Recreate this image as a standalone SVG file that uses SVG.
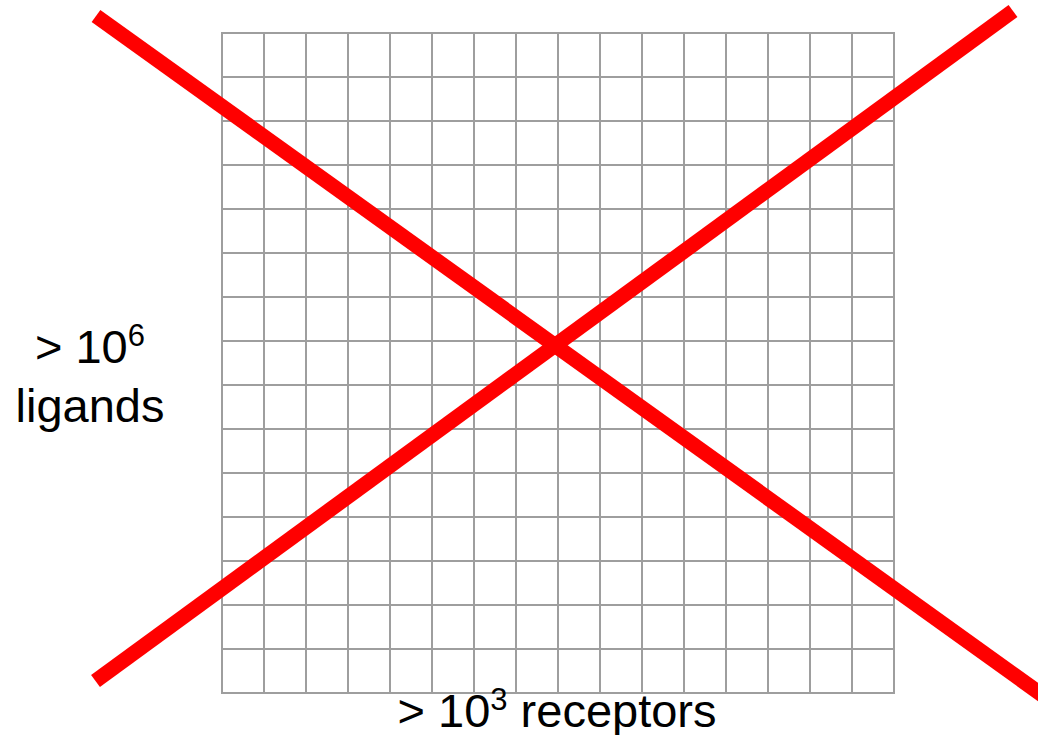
<svg xmlns="http://www.w3.org/2000/svg" width="1038" height="735" viewBox="0 0 1038 735">
  <style>
    .grid line { stroke: #9e9e9e; stroke-width: 2; }
    .cross line { stroke: #ff0000; stroke-width: 15; stroke-linecap: butt; }
    .lbl { font-family: "Liberation Sans", Arial, sans-serif; font-size: 47px; fill: #000; text-anchor: middle; }
    .sup { font-size: 31px; }
  </style>
  <rect width="1038" height="735" fill="#ffffff"/>
  <g id="grid" class="grid">
    <line x1="222" y1="33" x2="222" y2="693"/>
    <line x1="264" y1="33" x2="264" y2="693"/>
    <line x1="306" y1="33" x2="306" y2="693"/>
    <line x1="348" y1="33" x2="348" y2="693"/>
    <line x1="390" y1="33" x2="390" y2="693"/>
    <line x1="432" y1="33" x2="432" y2="693"/>
    <line x1="474" y1="33" x2="474" y2="693"/>
    <line x1="516" y1="33" x2="516" y2="693"/>
    <line x1="558" y1="33" x2="558" y2="693"/>
    <line x1="600" y1="33" x2="600" y2="693"/>
    <line x1="642" y1="33" x2="642" y2="693"/>
    <line x1="684" y1="33" x2="684" y2="693"/>
    <line x1="726" y1="33" x2="726" y2="693"/>
    <line x1="768" y1="33" x2="768" y2="693"/>
    <line x1="810" y1="33" x2="810" y2="693"/>
    <line x1="852" y1="33" x2="852" y2="693"/>
    <line x1="894" y1="33" x2="894" y2="693"/>
    <line x1="221" y1="33" x2="895" y2="33"/>
    <line x1="221" y1="77" x2="895" y2="77"/>
    <line x1="221" y1="121" x2="895" y2="121"/>
    <line x1="221" y1="165" x2="895" y2="165"/>
    <line x1="221" y1="209" x2="895" y2="209"/>
    <line x1="221" y1="253" x2="895" y2="253"/>
    <line x1="221" y1="297" x2="895" y2="297"/>
    <line x1="221" y1="341" x2="895" y2="341"/>
    <line x1="221" y1="385" x2="895" y2="385"/>
    <line x1="221" y1="429" x2="895" y2="429"/>
    <line x1="221" y1="473" x2="895" y2="473"/>
    <line x1="221" y1="517" x2="895" y2="517"/>
    <line x1="221" y1="561" x2="895" y2="561"/>
    <line x1="221" y1="605" x2="895" y2="605"/>
    <line x1="221" y1="649" x2="895" y2="649"/>
    <line x1="221" y1="693" x2="895" y2="693"/>
  </g>
  <g id="cross" class="cross">
    <line x1="96" y1="16" x2="1045" y2="697"/>
    <line x1="95.5" y1="681" x2="1013" y2="11"/>
  </g>
  <g id="ligands-label">
    <text class="lbl" x="90" y="363">&gt; 10<tspan class="sup" dy="-17">6</tspan></text>
    <text class="lbl" x="90" y="422">ligands</text>
  </g>
  <g id="receptors-label">
    <text class="lbl" x="557" y="727">&gt; 10<tspan class="sup" dy="-17">3</tspan><tspan dy="17"> receptors</tspan></text>
  </g>
</svg>
